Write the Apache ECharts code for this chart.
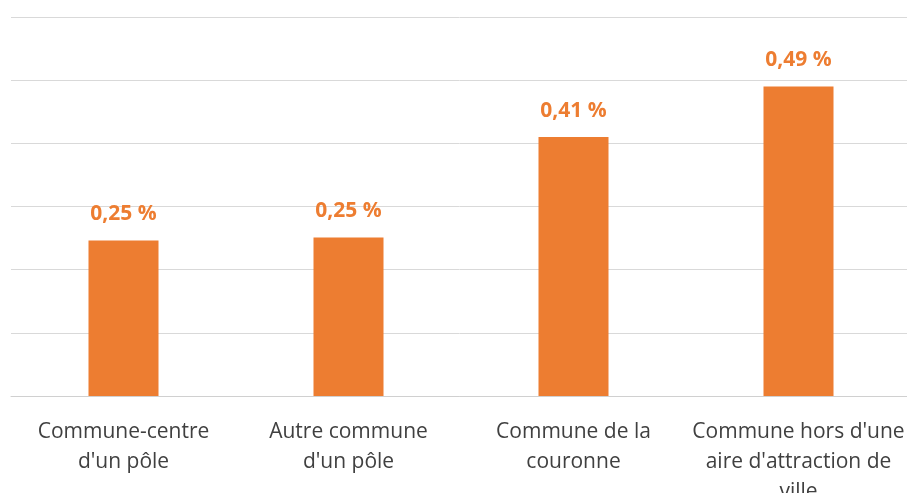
<!DOCTYPE html>
<html><head><meta charset="utf-8">
<script src="https://cdn.jsdelivr.net/npm/echarts@6/dist/echarts.min.js"></script>
<style>html,body{margin:0;padding:0;background:#fff;overflow:hidden}#c{width:907px;height:493px}</style>
</head><body><div id="c"></div>
<script>
const categories = ["Commune-centre\nd'un pôle", "Autre commune\nd'un pôle", "Commune de la\ncouronne", "Commune hors d'une\naire d'attraction de\nville"];
const values = [0.246, 0.251, 0.41, 0.49];
const labelTexts = ["0,25 %", "0,25 %", "0,41 %", "0,49 %"];

const chart = echarts.init(document.getElementById('c'), null, {renderer: 'canvas', width: 907, height: 493});
chart.setOption({
  animation: false,
  grid: {left: 11, right: -4, top: 17, bottom: 97, containLabel: false, outerBoundsMode: 'none'},
  xAxis: {
    type: 'category', data: categories,
    axisLine: {show: true, lineStyle: {color: '#d0d0d0', width: 1}},
    axisTick: {show: false},
    axisLabel: {color: '#404040', fontFamily: 'Open Sans', fontSize: 21, lineHeight: 30, margin: 21, interval: 0}
  },
  yAxis: {
    type: 'value', min: 0, max: 0.6, interval: 0.1,
    axisLabel: {show: false}, axisLine: {show: false}, axisTick: {show: false},
    splitLine: {lineStyle: {color: '#d9d9d9', width: 1}}
  },
  series: [{
    type: 'bar', data: values, barWidth: 70,
    itemStyle: {color: '#ED7D31'},
    label: {show: true, position: 'top', distance: 16, color: '#ED7D31', fontWeight: 'bold', fontFamily: 'Open Sans', fontSize: 21,
      formatter: p => labelTexts[p.dataIndex]}
  }]
});
</script></body></html>
